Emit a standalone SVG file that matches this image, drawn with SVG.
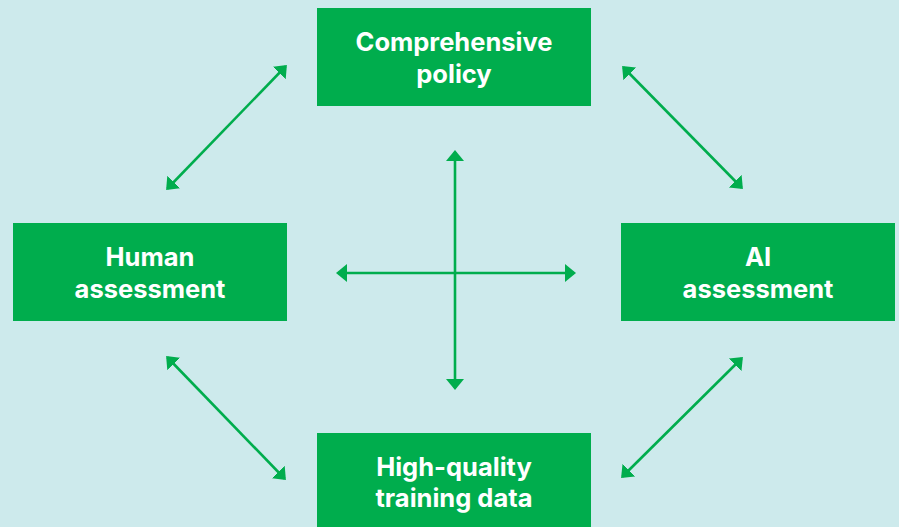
<svg xmlns="http://www.w3.org/2000/svg" width="899" height="527" viewBox="0 0 899 527">
<style>
.box{fill:#00ad4d}
.t{fill:#fff;font-family:Inter,"Open Sans","Liberation Sans",sans-serif;font-weight:700;font-size:25.5px;text-anchor:middle}
.c{stroke:#00ad4d;stroke-width:2.6;fill:none;marker-start:url(#ah);marker-end:url(#ah)}
</style>
<defs>
<marker id="ah" viewBox="0 0 11 18" refX="9" refY="9" markerWidth="11" markerHeight="18" markerUnits="userSpaceOnUse" orient="auto-start-reverse">
<path d="M0,0 L11,9 L0,18 z" fill="#00ad4d"/>
</marker>
</defs>
<rect width="899" height="527" fill="#cdeaec"/>
<g id="connectors">
<line class="c" x1="167.5" y1="188.5" x2="285.5" y2="66.5"/>
<line class="c" x1="623.5" y1="67.5" x2="741.5" y2="187.5"/>
<line class="c" x1="167.5" y1="357.5" x2="284.5" y2="478.5"/>
<line class="c" x1="622.5" y1="476.5" x2="741.5" y2="358.5"/>
<line class="c" x1="455" y1="152" x2="455" y2="388"/>
<line class="c" x1="338" y1="273" x2="574" y2="273"/>
</g>
<g id="policy">
<rect class="box" x="317" y="8" width="274" height="98"/>
<text class="t" x="454" y="51">Comprehensive</text>
<text class="t" x="454" y="83">policy</text>
</g>
<g id="human">
<rect class="box" x="13" y="223" width="274" height="98"/>
<text class="t" x="150" y="266">Human</text>
<text class="t" x="150" y="298">assessment</text>
</g>
<g id="ai">
<rect class="box" x="621" y="223" width="274" height="98"/>
<text class="t" x="758" y="266">AI</text>
<text class="t" x="758" y="298">assessment</text>
</g>
<g id="data">
<rect class="box" x="317" y="433" width="274" height="98"/>
<text class="t" x="454" y="476">High-quality</text>
<text class="t" x="454" y="507">training data</text>
</g>
</svg>
